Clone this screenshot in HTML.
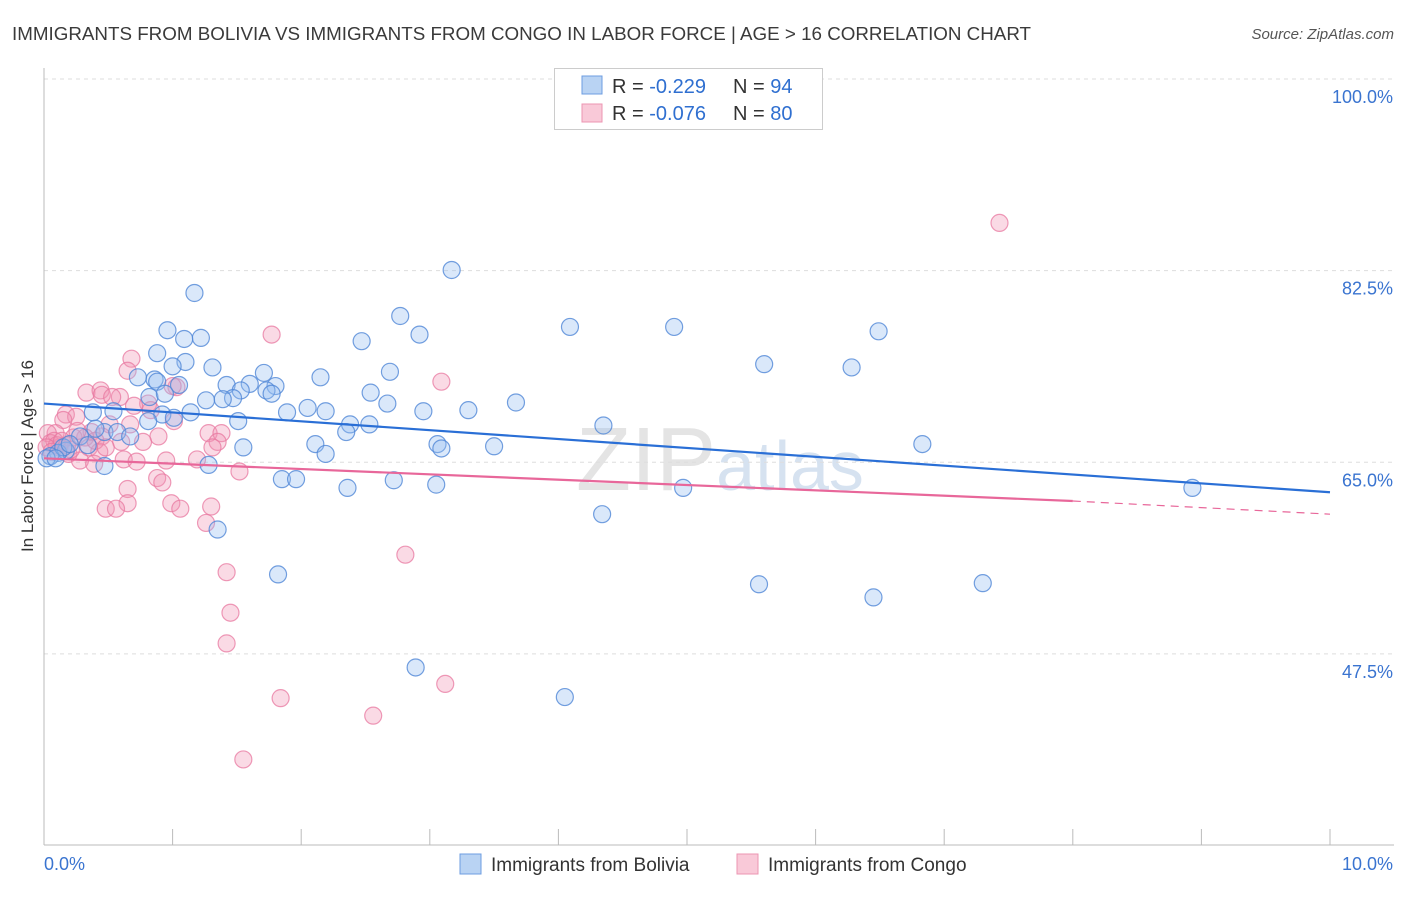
<!DOCTYPE html>
<html><head><meta charset="utf-8">
<style>
body{margin:0;background:#fff;font-family:"Liberation Sans",sans-serif;}
svg text{font-family:"Liberation Sans",sans-serif;}
</style></head>
<body>
<svg id="chart" width="1406" height="892" viewBox="0 0 1406 892" xmlns="http://www.w3.org/2000/svg">
<text x="12" y="40" font-size="18.8" fill="#3a3a3a">IMMIGRANTS FROM BOLIVIA VS IMMIGRANTS FROM CONGO IN LABOR FORCE | AGE &gt; 16 CORRELATION CHART</text>
<text x="1394" y="39" font-size="15" fill="#555" text-anchor="end" font-style="italic">Source: ZipAtlas.com</text>
<text transform="translate(33,456) rotate(-90)" font-size="17" fill="#333" text-anchor="middle">In Labor Force | Age &gt; 16</text>
<text x="720" y="490" font-size="90" fill="#e4e4e4" text-anchor="middle" font-family="Liberation Serif">ZIP<tspan font-size="70" fill="#d6e2f0" font-family="Liberation Sans">atlas</tspan></text>
<g id="grid"></g>
<g id="axes"></g>
<g id="pts"></g>
<g id="trends"></g>
<g>
<rect x="554.5" y="68.5" width="268" height="61" fill="#fff" stroke="#ccc"/>
<rect x="582" y="76" width="20" height="18" fill="#b9d3f3" stroke="#6d9de0"/>
<rect x="582" y="104" width="20" height="18" fill="#f9c9d8" stroke="#ec95b2"/>
<text x="612" y="93" font-size="20" fill="#333">R = <tspan fill="#2f6fd0">-0.229</tspan><tspan x="733">N = </tspan><tspan fill="#2f6fd0">94</tspan></text>
<text x="612" y="120" font-size="20" fill="#333">R = <tspan fill="#2f6fd0">-0.076</tspan><tspan x="733">N = </tspan><tspan fill="#2f6fd0">80</tspan></text>
</g>
<g>
<rect x="460" y="854" width="21" height="20" fill="#b9d3f3" stroke="#6d9de0"/>
<text x="491" y="871" font-size="19" fill="#333">Immigrants from Bolivia</text>
<rect x="737" y="854" width="21" height="20" fill="#f9c9d8" stroke="#ec95b2"/>
<text x="768" y="871" font-size="19" fill="#333">Immigrants from Congo</text>
</g>
</svg>
<script>
const yTicks=[47.5,65,82.5,100];
const yTickLabels=["47.5%","65.0%","82.5%","100.0%"];
const xTickLabels=["0.0%","10.0%"];
const boliviaX=[3.17,1.17,2.77,4.09,4.90,6.49,0.96,2.92,1.22,1.09,2.47,0.88,1.10,5.60,6.28,1.00,1.31,1.71,2.69,2.15,0.86,0.73,1.05,1.42,1.60,1.80,0.88,2.54,1.73,1.77,1.53,1.47,1.26,1.39,0.82,0.94,2.67,3.67,2.05,1.89,2.19,2.95,3.30,0.54,1.14,0.38,0.92,1.01,1.51,2.38,2.53,0.81,2.35,4.35,0.47,0.28,0.57,0.40,2.11,3.50,6.83,3.06,3.09,1.55,2.19,0.17,0.11,0.05,0.02,0.15,1.28,0.47,1.85,1.96,2.72,3.05,2.36,4.97,8.93,4.34,1.35,1.82,5.56,7.30,6.45,2.89,4.05,0.34,0.20,0.09,0.67];
const boliviaY=[85.8,83.7,81.6,80.6,80.6,80.2,80.3,79.9,79.6,79.5,79.3,78.2,77.4,77.2,76.9,77.0,76.9,76.4,76.5,76.0,75.8,76.0,75.3,75.3,75.4,75.2,75.6,74.6,74.8,74.5,74.8,74.1,73.9,74.0,74.2,74.5,73.6,73.7,73.2,72.8,72.9,72.9,73.0,72.9,72.8,72.8,72.6,72.3,72.0,71.7,71.7,72.0,71.0,71.6,71.0,70.6,71.0,71.3,69.9,69.7,69.9,69.9,69.5,69.6,69.0,69.3,69.1,68.8,68.6,69.6,68.0,67.9,66.7,66.7,66.6,66.2,65.9,65.9,65.9,63.5,62.1,58.0,57.1,57.2,55.9,49.5,46.8,69.8,69.9,68.6,70.6];
const congoX=[7.43,1.77,3.09,0.68,0.65,0.33,0.44,0.45,1.03,1.00,0.59,0.53,0.81,0.83,1.01,0.70,0.17,0.25,0.15,0.51,0.67,1.28,1.38,0.45,0.37,0.32,0.23,0.09,0.03,0.89,1.35,1.31,0.60,0.35,0.43,0.77,0.05,0.12,0.19,0.28,0.39,0.62,0.72,0.95,1.19,1.52,0.88,0.92,0.65,0.65,0.48,0.56,0.99,1.06,1.30,1.26,2.81,1.42,1.45,1.42,1.84,3.12,2.56,1.55,0.08,0.10,0.14,0.18,0.02,0.06,0.21,0.26,0.40,0.48];
const congoY=[90.1,79.9,75.6,77.7,76.6,74.6,74.8,74.4,75.1,75.2,74.2,74.2,73.6,73.0,72.0,73.4,72.6,72.4,72.1,71.7,71.7,70.9,70.9,70.6,71.0,70.5,70.5,70.9,70.9,70.6,70.1,69.6,70.1,69.6,69.2,70.1,70.0,69.6,69.0,68.4,68.1,68.5,68.3,68.4,68.5,67.4,66.8,66.4,65.8,64.5,64.0,64.0,64.5,64.0,64.2,62.7,59.8,58.2,54.5,51.7,46.7,48.0,45.1,41.1,70.2,69.8,70.2,69.8,69.6,69.2,69.4,71.1,70.2,69.6];
const boliviaTrendX=[0,10];
const boliviaTrendY=[73.6,65.5];
const congoTrendX=[0,8.0,10];
const congoTrendY=[68.6,64.7,63.5];

const NS="http://www.w3.org/2000/svg";
const X0=44,X1=1330,YTOP=114.5,PXPER=10.95;
function xs(v){return X0+(X1-X0)*v/10;}
function ys(v){return YTOP+(100-v)*PXPER;}
function mk(tag,attrs,parent){const e=document.createElementNS(NS,tag);for(const k in attrs)e.setAttribute(k,attrs[k]);parent.appendChild(e);return e;}
const grid=document.getElementById('grid'),axes=document.getElementById('axes');
yTicks.forEach((t,i)=>{
  const gy=ys(t)-35.5;
  const l=mk('line',{x1:X0,x2:1394,y1:gy,y2:gy,stroke:'#ddd','stroke-dasharray':'4,4'},grid);
  
  
  const tx=mk('text',{x:1393,y:gy+24,'font-size':18,fill:'#3a74d0','text-anchor':'end'},axes);
  tx.textContent=yTickLabels[i];
  
  
});
const ax=mk('line',{x1:X0,x2:1394,y1:845,y2:845,stroke:'#bbb'},axes);


const ay=mk('line',{x1:X0,x2:X0,y1:68,y2:845,stroke:'#bbb'},axes);


for(let i=0;i<=10;i++){
  const tk=mk('line',{x1:xs(i),x2:xs(i),y1:829,y2:845,stroke:'#bbb'},axes);
  
  
}
[[0,'start',X0],[10,'end',1393]].forEach((d,i)=>{
  const tx=mk('text',{x:d[2],y:870,'font-size':18,fill:'#3a74d0','text-anchor':d[1]},axes);
  tx.textContent=xTickLabels[i];
  
  
});
const pts=document.getElementById('pts');
congoX.forEach((x,i)=>{
  const c=mk('circle',{cx:xs(x),cy:ys(congoY[i]),r:8.5,fill:'rgba(242,150,180,0.35)',stroke:'rgba(232,120,160,0.75)','stroke-width':1.2},pts);
  
  
});
boliviaX.forEach((x,i)=>{
  const c=mk('circle',{cx:xs(x),cy:ys(boliviaY[i]),r:8.5,fill:'rgba(150,190,240,0.35)',stroke:'rgba(80,135,215,0.8)','stroke-width':1.2},pts);
  
  
});
const tr=document.getElementById('trends');
const bl=mk('line',{x1:xs(boliviaTrendX[0]),y1:ys(boliviaTrendY[0]),x2:xs(boliviaTrendX[1]),y2:ys(boliviaTrendY[1]),stroke:'#2a6fd6','stroke-width':2.2},tr);


const cl=mk('line',{x1:xs(congoTrendX[0]),y1:ys(congoTrendY[0]),x2:xs(congoTrendX[1]),y2:ys(congoTrendY[1]),stroke:'#e8679a','stroke-width':2.2},tr);


const cd=mk('line',{x1:xs(congoTrendX[1]),y1:ys(congoTrendY[1]),x2:xs(congoTrendX[2]),y2:ys(congoTrendY[2]),stroke:'#e8679a','stroke-width':1.2,'stroke-dasharray':'8,6'},tr);


</script>
</body></html>
